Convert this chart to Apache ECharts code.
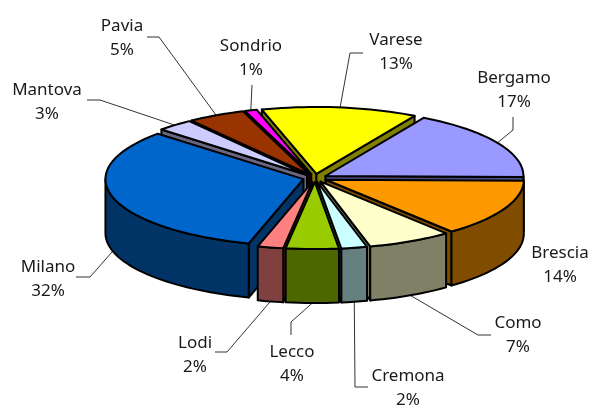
<!DOCTYPE html>
<html>
<head>
<meta charset="utf-8">
<script src="https://cdn.jsdelivr.net/npm/echarts@6/dist/echarts.min.js"></script>
<style>html,body{margin:0;padding:0;background:#fff}#c{width:591px;height:406px}</style>
</head>
<body>
<div id="c"></div>
<script>
// Data
const categories = ['Varese','Bergamo','Brescia','Como','Cremona','Lecco','Lodi','Milano','Mantova','Pavia','Sondrio'];
const values = [12.7,17,13.8,6.9,2.1,4.3,2.1,32.4,3,4.7,1];

// Styles
const topColors  = ['#FFFF00','#9999FF','#FF9900','#FFFFCC','#CCFFFF','#99CC00','#FF8080','#0066CC','#CCCCFF','#993300','#FF00FF'];
const sideColors = ['#808000','#4C4C80','#804C00','#808066','#668080','#4C6600','#804040','#003366','#666680','#4C1900','#800080'];

// Annotation layout: text centre and leader bend/end per label (null = no leader)
const labelCenters = [[396,52],[514,90],[560,265],[518,335],[408,388],[292,364],[195,355],[48,279],[47,102],[122,38],[251,58]];
const leaderBends = [
  [[350,53],[363,53]], [[513,130],[513,117]], null, [[478,335],[491,335]],
  [[355,387],[368,387]], [[291,322],[291,335]], [[227,352],[215,352]],
  [[90,277],[76,277]], [[100,100],[87,100]], [[159,37],[147,37]], [[252,85]]
];

// Pie geometry
const CX = 315, CY = 178, RX = 198, RY = 67, DEPTH = 54, EXPLODE = 12, START_DEG = -16;
const FONT = '"Noto Sans", sans-serif', FONT_SIZE = 17;

const total = values.reduce((a,b)=>a+b,0);
const rad = d => d*Math.PI/180;
const slices = [];
let acc = START_DEG;
values.forEach((v,i)=>{
  const a = acc, b = acc + v/total*360; acc = b;
  const m = (a+b)/2;
  slices.push({i,a,b,m,ox:Math.sin(rad(m))*EXPLODE,oy:-Math.cos(rad(m))*EXPLODE*RY/RX});
});
const pt = (s,d,r=1)=>[CX+s.ox+Math.sin(rad(d))*RX*r, CY+s.oy-Math.cos(rad(d))*RY*r];
const arc = (s,from,to)=>{const n=Math.max(2,Math.ceil(Math.abs(to-from)/2));const o=[];for(let k=0;k<=n;k++)o.push(pt(s,from+(to-from)*k/n));return o;};
const down = p=>[p[0],p[1]+DEPTH];
const order = slices.slice().sort((p,q)=>(-Math.cos(rad(p.m)))-(-Math.cos(rad(q.m)))).map(s=>s.i);

function renderItem(params, api){
  const s = slices[api.value(0)];
  const ch = [];
  const stroke = {stroke:'#000',lineWidth:2,lineJoin:'round'};
  const poly = (points,fill)=>ch.push({type:'polygon',shape:{points},style:Object.assign({fill},stroke)});
  const side = sideColors[s.i];
  const apex = [CX+s.ox,CY+s.oy];
  // radial cut faces toward the viewer
  const na = ((s.a%360)+360)%360, nb = ((s.b%360)+360)%360;
  if (Math.sin(rad(na))<0){const e=pt(s,s.a);poly([apex,e,down(e),down(apex)],side);}
  if (Math.sin(rad(nb))>0){const e=pt(s,s.b);poly([apex,e,down(e),down(apex)],side);}
  // outer wall, only where it faces the viewer
  const lo = Math.max(s.a,90), hi = Math.min(s.b,270);
  if (hi>lo){const rim=arc(s,lo,hi);poly(rim.concat(rim.slice().reverse().map(down)),side);}
  // top face
  poly([apex].concat(arc(s,s.a,s.b)),topColors[s.i]);
  return {type:'group',children:ch};
}

function renderLabel(params, api){
  const s = slices[api.value(0)];
  const ch = [];
  const bends = leaderBends[s.i];
  if (bends){
    const nm = ((s.m%360)+360)%360;
    let st = pt(s,s.m);
    if (nm>90 && nm<270) st = down(st);
    ch.push({type:'polyline',shape:{points:[st].concat(bends)},style:{stroke:'#333',lineWidth:1,fill:null}});
  }
  const c = labelCenters[s.i];
  ch.push({type:'text',style:{x:c[0],y:c[1],text:categories[s.i]+'\n'+Math.round(values[s.i]/total*100)+'%',
    align:'center',verticalAlign:'middle',fill:'#1a1a1a',font:FONT_SIZE+'px '+FONT,lineHeight:24}});
  return {type:'group',children:ch};
}

const chart = echarts.init(document.getElementById('c'),null,{renderer:'canvas'});
chart.setOption({
  animation:false,
  backgroundColor:'#fff',
  series:[
    {type:'custom',coordinateSystem:'none',silent:true,z:1,renderItem:renderLabel,data:order.map(i=>[i,values[i]])},
    {type:'custom',coordinateSystem:'none',silent:true,z:2,renderItem:renderItem,data:order.map(i=>[i,values[i]])}
  ]
});
</script>
</body>
</html>
